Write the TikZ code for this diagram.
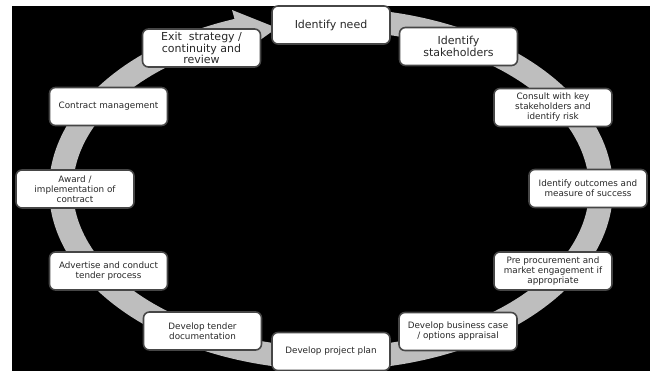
\documentclass[tikz,border=0pt]{standalone}
\usepackage{fontspec}
\setmainfont{DejaVu Sans}
\definecolor{ringgray}{RGB}{190,190,190}
\definecolor{boxborder}{RGB}{70,70,70}
\definecolor{textcol}{RGB}{40,40,40}
\begin{document}
\begin{tikzpicture}[x=1pt,y=-1pt,
  box/.style={draw=boxborder, line width=1.6pt, fill=white, rounded corners=6pt,
    minimum width=118pt, minimum height=38pt, align=center, inner sep=2pt, text=textcol},
  big/.style={font=\fontsize{11}{11.5}\selectfont},
  small/.style={font=\fontsize{8.8}{10}\selectfont}]
\useasboundingbox (0,0) rectangle (655,371);
\fill[white] (0,0) rectangle (655,371);
\fill[black] (12,6) rectangle (650,371);
% circular arrow
\fill[ringgray] (331,8) arc[start angle=-90,end angle=250,x radius=282,y radius=181]
  -- (232,10) -- (277,28) -- (246,50) -- (242.8,40.5)
  arc[start angle=250,end angle=-90,x radius=258,y radius=158] -- cycle;
% steps
\node[box,big]   (need)  at (331,25)    {Identify need};
\node[box,big]   (stake) at (458.5,46.5) {Identify\\stakeholders};
\node[box,small] (cons)  at (553,107.5) {Consult with key\\stakeholders and\\identify risk};
\node[box,small] (outc)  at (588,188.5) {Identify outcomes and\\measure of success};
\node[box,small] (pre)   at (553,271)   {Pre procurement and\\market engagement if\\appropriate};
\node[box,small] (bus)   at (458,331.5) {Develop business case\\/ options appraisal};
\node[box,small] (plan)  at (331,351.5) {Develop project plan};
\node[box,small] (tend)  at (202.5,331) {Develop tender\\documentation};
\node[box,small] (adv)   at (108.5,271) {Advertise and conduct\\tender process};
\node[box,small] (award) at (75,189)    {Award /\\implementation of\\contract};
\node[box,small] (cm)    at (108.5,106.5) {Contract management};
\node[box,big]   (exit)  at (201.5,48)  {Exit~ strategy /\\continuity and\\review};
\end{tikzpicture}
\end{document}
